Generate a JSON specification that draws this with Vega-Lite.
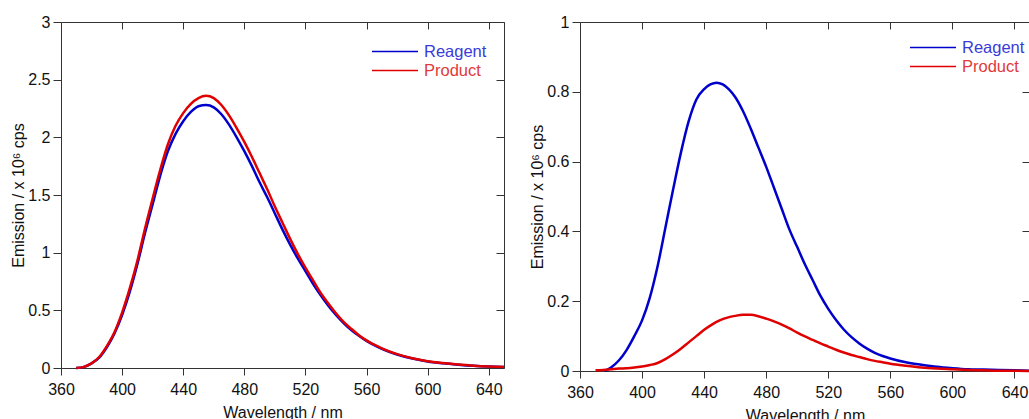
{
  "$schema": "https://vega.github.io/schema/vega-lite/v6.json",
  "padding": {"left": 10, "top": 14, "right": 0, "bottom": 0},
  "spacing": 76,
  "bounds": "flush",
  "resolve": {"legend": {"color": "independent"}},
  "config": {
    "font": "Liberation Sans",
    "view": {"stroke": null},
    "axis": {
      "grid": false,
      "labelFlush": false,
      "labelOverlap": false,
      "domainColor": "#333333",
      "tickColor": "#333333",
      "labelFontSize": 16,
      "labelColor": "#111111",
      "titleFontSize": 16,
      "titleFontWeight": "normal",
      "titleColor": "#111111",
      "labelFont": "Liberation Sans",
      "titleFont": "Liberation Sans"
    },
    "legend": {
      "orient": "none",
      "symbolType": "stroke",
      "symbolSize": 2116,
      "symbolStrokeWidth": 1.6,
      "labelFontSize": 16.5,
      "labelOffset": 5,
      "clipHeight": 19,
      "rowPadding": 0,
      "padding": 0,
      "title": null
    }
  },
  "datasets": {
    "left": [
      {"w":370,"e":0,"s":"Reagent"},{"w":375,"e":0.01,"s":"Reagent"},{"w":380,"e":0.04,"s":"Reagent"},{"w":385,"e":0.09,"s":"Reagent"},{"w":390,"e":0.18,"s":"Reagent"},{"w":395,"e":0.30,"s":"Reagent"},{"w":400,"e":0.46,"s":"Reagent"},{"w":405,"e":0.66,"s":"Reagent"},{"w":410,"e":0.90,"s":"Reagent"},{"w":415,"e":1.17,"s":"Reagent"},{"w":420,"e":1.42,"s":"Reagent"},{"w":425,"e":1.67,"s":"Reagent"},{"w":430,"e":1.88,"s":"Reagent"},{"w":435,"e":2.03,"s":"Reagent"},{"w":440,"e":2.14,"s":"Reagent"},{"w":445,"e":2.22,"s":"Reagent"},{"w":450,"e":2.27,"s":"Reagent"},{"w":455,"e":2.28,"s":"Reagent"},{"w":460,"e":2.26,"s":"Reagent"},{"w":465,"e":2.20,"s":"Reagent"},{"w":470,"e":2.11,"s":"Reagent"},{"w":475,"e":2.00,"s":"Reagent"},{"w":480,"e":1.88,"s":"Reagent"},{"w":485,"e":1.75,"s":"Reagent"},{"w":490,"e":1.61,"s":"Reagent"},{"w":495,"e":1.48,"s":"Reagent"},{"w":500,"e":1.34,"s":"Reagent"},{"w":505,"e":1.20,"s":"Reagent"},{"w":510,"e":1.07,"s":"Reagent"},{"w":515,"e":0.95,"s":"Reagent"},{"w":520,"e":0.84,"s":"Reagent"},{"w":525,"e":0.73,"s":"Reagent"},{"w":530,"e":0.63,"s":"Reagent"},{"w":535,"e":0.54,"s":"Reagent"},{"w":540,"e":0.46,"s":"Reagent"},{"w":545,"e":0.39,"s":"Reagent"},{"w":550,"e":0.33,"s":"Reagent"},{"w":555,"e":0.28,"s":"Reagent"},{"w":560,"e":0.235,"s":"Reagent"},{"w":565,"e":0.198,"s":"Reagent"},{"w":570,"e":0.167,"s":"Reagent"},{"w":580,"e":0.117,"s":"Reagent"},{"w":590,"e":0.082,"s":"Reagent"},{"w":600,"e":0.057,"s":"Reagent"},{"w":610,"e":0.041,"s":"Reagent"},{"w":620,"e":0.029,"s":"Reagent"},{"w":630,"e":0.019,"s":"Reagent"},{"w":640,"e":0.012,"s":"Reagent"},{"w":650,"e":0.008,"s":"Reagent"},
      {"w":370,"e":0,"s":"Product"},{"w":375,"e":0.01,"s":"Product"},{"w":380,"e":0.04,"s":"Product"},{"w":385,"e":0.095,"s":"Product"},{"w":390,"e":0.19,"s":"Product"},{"w":395,"e":0.31,"s":"Product"},{"w":400,"e":0.48,"s":"Product"},{"w":405,"e":0.69,"s":"Product"},{"w":410,"e":0.93,"s":"Product"},{"w":415,"e":1.21,"s":"Product"},{"w":420,"e":1.47,"s":"Product"},{"w":425,"e":1.72,"s":"Product"},{"w":430,"e":1.94,"s":"Product"},{"w":435,"e":2.10,"s":"Product"},{"w":440,"e":2.21,"s":"Product"},{"w":445,"e":2.29,"s":"Product"},{"w":450,"e":2.34,"s":"Product"},{"w":455,"e":2.36,"s":"Product"},{"w":460,"e":2.34,"s":"Product"},{"w":465,"e":2.28,"s":"Product"},{"w":470,"e":2.19,"s":"Product"},{"w":475,"e":2.08,"s":"Product"},{"w":480,"e":1.96,"s":"Product"},{"w":485,"e":1.83,"s":"Product"},{"w":490,"e":1.69,"s":"Product"},{"w":495,"e":1.55,"s":"Product"},{"w":500,"e":1.40,"s":"Product"},{"w":505,"e":1.26,"s":"Product"},{"w":510,"e":1.12,"s":"Product"},{"w":515,"e":0.99,"s":"Product"},{"w":520,"e":0.87,"s":"Product"},{"w":525,"e":0.76,"s":"Product"},{"w":530,"e":0.65,"s":"Product"},{"w":535,"e":0.56,"s":"Product"},{"w":540,"e":0.475,"s":"Product"},{"w":545,"e":0.40,"s":"Product"},{"w":550,"e":0.34,"s":"Product"},{"w":555,"e":0.285,"s":"Product"},{"w":560,"e":0.24,"s":"Product"},{"w":565,"e":0.202,"s":"Product"},{"w":570,"e":0.171,"s":"Product"},{"w":580,"e":0.12,"s":"Product"},{"w":590,"e":0.084,"s":"Product"},{"w":600,"e":0.059,"s":"Product"},{"w":610,"e":0.043,"s":"Product"},{"w":620,"e":0.03,"s":"Product"},{"w":630,"e":0.02,"s":"Product"},{"w":640,"e":0.013,"s":"Product"},{"w":650,"e":0.008,"s":"Product"}
    ],
    "right": [
      {"w":376,"e":0,"s":"Reagent"},{"w":380,"e":0.01,"s":"Reagent"},{"w":385,"e":0.03,"s":"Reagent"},{"w":390,"e":0.06,"s":"Reagent"},{"w":395,"e":0.10,"s":"Reagent"},{"w":400,"e":0.145,"s":"Reagent"},{"w":405,"e":0.21,"s":"Reagent"},{"w":410,"e":0.30,"s":"Reagent"},{"w":415,"e":0.41,"s":"Reagent"},{"w":420,"e":0.52,"s":"Reagent"},{"w":425,"e":0.625,"s":"Reagent"},{"w":430,"e":0.715,"s":"Reagent"},{"w":435,"e":0.778,"s":"Reagent"},{"w":440,"e":0.808,"s":"Reagent"},{"w":444,"e":0.821,"s":"Reagent"},{"w":448,"e":0.826,"s":"Reagent"},{"w":452,"e":0.821,"s":"Reagent"},{"w":456,"e":0.807,"s":"Reagent"},{"w":460,"e":0.785,"s":"Reagent"},{"w":465,"e":0.745,"s":"Reagent"},{"w":470,"e":0.695,"s":"Reagent"},{"w":475,"e":0.64,"s":"Reagent"},{"w":480,"e":0.585,"s":"Reagent"},{"w":485,"e":0.525,"s":"Reagent"},{"w":490,"e":0.465,"s":"Reagent"},{"w":495,"e":0.405,"s":"Reagent"},{"w":500,"e":0.355,"s":"Reagent"},{"w":505,"e":0.305,"s":"Reagent"},{"w":510,"e":0.26,"s":"Reagent"},{"w":515,"e":0.215,"s":"Reagent"},{"w":520,"e":0.178,"s":"Reagent"},{"w":525,"e":0.146,"s":"Reagent"},{"w":530,"e":0.119,"s":"Reagent"},{"w":535,"e":0.097,"s":"Reagent"},{"w":540,"e":0.079,"s":"Reagent"},{"w":545,"e":0.064,"s":"Reagent"},{"w":550,"e":0.052,"s":"Reagent"},{"w":555,"e":0.043,"s":"Reagent"},{"w":560,"e":0.036,"s":"Reagent"},{"w":570,"e":0.025,"s":"Reagent"},{"w":580,"e":0.018,"s":"Reagent"},{"w":590,"e":0.012,"s":"Reagent"},{"w":600,"e":0.008,"s":"Reagent"},{"w":610,"e":0.005,"s":"Reagent"},{"w":620,"e":0.004,"s":"Reagent"},{"w":630,"e":0.003,"s":"Reagent"},{"w":640,"e":0.002,"s":"Reagent"},{"w":650,"e":0.001,"s":"Reagent"},
      {"w":370,"e":0.002,"s":"Product"},{"w":375,"e":0.003,"s":"Product"},{"w":380,"e":0.005,"s":"Product"},{"w":385,"e":0.007,"s":"Product"},{"w":390,"e":0.008,"s":"Product"},{"w":395,"e":0.010,"s":"Product"},{"w":400,"e":0.013,"s":"Product"},{"w":405,"e":0.017,"s":"Product"},{"w":410,"e":0.023,"s":"Product"},{"w":415,"e":0.034,"s":"Product"},{"w":420,"e":0.048,"s":"Product"},{"w":425,"e":0.064,"s":"Product"},{"w":430,"e":0.082,"s":"Product"},{"w":435,"e":0.100,"s":"Product"},{"w":440,"e":0.118,"s":"Product"},{"w":445,"e":0.133,"s":"Product"},{"w":450,"e":0.145,"s":"Product"},{"w":455,"e":0.153,"s":"Product"},{"w":460,"e":0.158,"s":"Product"},{"w":465,"e":0.161,"s":"Product"},{"w":470,"e":0.161,"s":"Product"},{"w":475,"e":0.157,"s":"Product"},{"w":480,"e":0.150,"s":"Product"},{"w":485,"e":0.142,"s":"Product"},{"w":490,"e":0.133,"s":"Product"},{"w":495,"e":0.122,"s":"Product"},{"w":500,"e":0.110,"s":"Product"},{"w":505,"e":0.099,"s":"Product"},{"w":510,"e":0.089,"s":"Product"},{"w":515,"e":0.079,"s":"Product"},{"w":520,"e":0.070,"s":"Product"},{"w":525,"e":0.061,"s":"Product"},{"w":530,"e":0.053,"s":"Product"},{"w":535,"e":0.046,"s":"Product"},{"w":540,"e":0.040,"s":"Product"},{"w":545,"e":0.034,"s":"Product"},{"w":550,"e":0.029,"s":"Product"},{"w":555,"e":0.025,"s":"Product"},{"w":560,"e":0.021,"s":"Product"},{"w":570,"e":0.015,"s":"Product"},{"w":580,"e":0.010,"s":"Product"},{"w":590,"e":0.007,"s":"Product"},{"w":600,"e":0.005,"s":"Product"},{"w":610,"e":0.003,"s":"Product"},{"w":620,"e":0.002,"s":"Product"},{"w":630,"e":0.001,"s":"Product"},{"w":640,"e":0.001,"s":"Product"},{"w":650,"e":0,"s":"Product"}
    ]
  },
  "hconcat": [
    {
      "width": 443,
      "height": 346,
      "data": {"name": "left"},
      "layer": [
        {
          "mark": {"type": "line", "strokeWidth": 2.5, "interpolate": "monotone"},
          "encoding": {
            "x": {"field": "w", "type": "quantitative", "scale": {"domain": [360, 650], "nice": false, "zero": false},
              "axis": {"orient": "bottom", "title": "Wavelength / nm", "values": [360,400,440,480,520,560,600,640], "tickSize": 7, "labelPadding": 6, "titlePadding": 7}},
            "y": {"field": "e", "type": "quantitative", "scale": {"domain": [0, 3], "nice": false},
              "axis": {"orient": "left", "title": "Emission / x 10⁶ cps", "values": [0,0.5,1,1.5,2,2.5,3], "format": "~g", "tickSize": 8, "labelPadding": 3, "titlePadding": 1}},
            "color": {"field": "s", "type": "nominal", "sort": ["Reagent", "Product"],
              "scale": {"domain": ["Reagent", "Product"], "range": ["#0000CC", "#E00000"]},
              "legend": {"legendX": 310, "legendY": 20, "encode": {"labels": {"update": {"fill": {"signal": "datum.label === 'Reagent' ? '#3a3ad8' : '#e03a3a'"}}}}}},
            "detail": {"field": "s"}
          }
        },
        {
          "mark": {"type": "line", "opacity": 0},
          "encoding": {
            "x": {"field": "w", "type": "quantitative", "axis": {"orient": "top", "title": null, "labels": false, "values": [360,400,440,480,520,560,600,640], "tickSize": -7}},
            "y": {"field": "e", "type": "quantitative", "axis": {"orient": "right", "title": null, "labels": false, "values": [0,0.5,1,1.5,2,2.5,3], "tickSize": -8}},
            "detail": {"field": "s"}
          }
        }
      ]
    },
    {
      "width": 450,
      "height": 349,
      "data": {"name": "right"},
      "layer": [
        {
          "mark": {"type": "line", "strokeWidth": 2.5, "interpolate": "monotone"},
          "encoding": {
            "x": {"field": "w", "type": "quantitative", "scale": {"domain": [360, 650], "nice": false, "zero": false},
              "axis": {"orient": "bottom", "title": "Wavelength / nm", "values": [360,400,440,480,520,560,600,640], "tickSize": 7, "labelPadding": 6, "titlePadding": 7}},
            "y": {"field": "e", "type": "quantitative", "scale": {"domain": [0, 1], "nice": false},
              "axis": {"orient": "left", "title": "Emission / x 10⁶ cps", "values": [0,0.2,0.4,0.6,0.8,1], "format": "~g", "tickSize": 8, "labelPadding": 3, "titlePadding": 1}},
            "color": {"field": "s", "type": "nominal", "sort": ["Reagent", "Product"],
              "scale": {"domain": ["Reagent", "Product"], "range": ["#0000CC", "#E00000"]},
              "legend": {"legendX": 329, "legendY": 16, "encode": {"labels": {"update": {"fill": {"signal": "datum.label === 'Reagent' ? '#3a3ad8' : '#e03a3a'"}}}}}},
            "detail": {"field": "s"}
          }
        },
        {
          "mark": {"type": "line", "opacity": 0},
          "encoding": {
            "x": {"field": "w", "type": "quantitative", "axis": {"orient": "top", "title": null, "labels": false, "values": [360,400,440,480,520,560,600,640], "tickSize": -7}},
            "y": {"field": "e", "type": "quantitative", "axis": {"orient": "right", "title": null, "labels": false, "values": [0,0.2,0.4,0.6,0.8,1], "tickSize": -8}},
            "detail": {"field": "s"}
          }
        }
      ]
    }
  ]
}
